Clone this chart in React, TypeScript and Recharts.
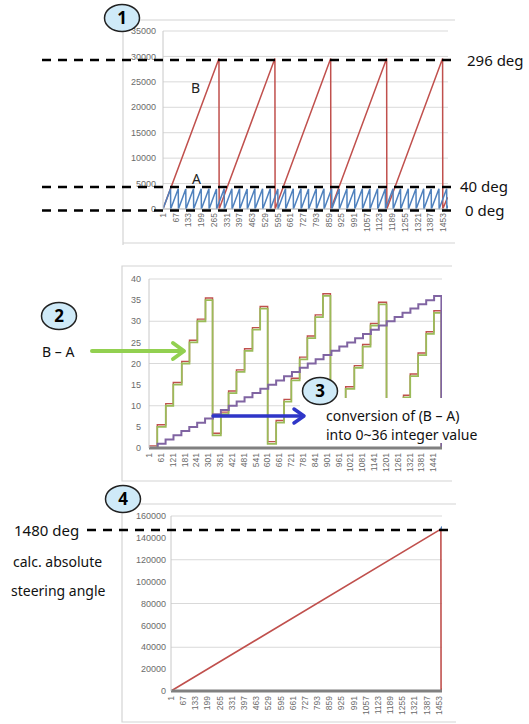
import { LineChart, Line, XAxis, YAxis, CartesianGrid } from "recharts";

// ---- chart 1: sensor angles A and B ----
const xTicks1 = [1, 67, 133, 199, 265, 331, 397, 463, 529, 595, 661, 727, 793, 859, 925, 991, 1057, 1123, 1189, 1255, 1321, 1387, 1453];
const yTicks1 = [0, 5000, 10000, 15000, 20000, 25000, 30000, 35000];

const bIdx = [1, 291, 292, 581, 582, 870, 871, 1160, 1161, 1450, 1451, 1476];
const bVal = [0, 29600, 0, 29600, 0, 29600, 0, 29600, 0, 29600, 0, 2300];

// A wraps back to 0 right after each peak
const aWrapIdx = [40, 80, 119, 159, 199, 239, 278, 318, 358, 398, 437, 477, 517, 557, 596, 636, 676, 716, 755, 795, 835, 875, 914, 954, 994, 1034, 1073, 1113, 1153, 1193, 1232, 1272, 1312, 1352, 1391, 1431, 1471];
const aPeakVal = [4000, 4000, 3950, 4000, 4000, 4000, 3950, 4000, 4000, 4000, 3950, 4000, 4000, 4000, 3950, 4000, 4000, 4000, 3950, 4000, 4000, 4000, 3950, 4000, 4000, 4000, 3950, 4000, 4000, 4000, 3950, 4000, 4000, 4000, 3950, 4000, 4000];

// ---- chart 2: B - A, and its 0~36 integer conversion ----
const xTicks2 = [1, 61, 121, 181, 241, 301, 361, 421, 481, 541, 601, 661, 721, 781, 841, 901, 961, 1021, 1081, 1141, 1201, 1261, 1321, 1381, 1441];
const yTicks2 = [0, 5, 10, 15, 20, 25, 30, 35, 40];

const gIdx = [1, 43, 86, 124, 167, 206, 246, 287, 323, 365, 404, 444, 485, 525, 564, 602, 645, 685, 722, 764, 803, 843, 882, 920, 960, 997, 1041, 1083, 1123, 1164, 1204, 1244, 1290, 1324, 1364, 1405, 1444, 1482, 1485];
const gVal = [0, 5, 10, 15, 20, 25, 30, 35, 3, 8, 13, 18, 23, 28, 33, 1, 6, 11, 16, 21, 26, 31, 36, 4, 9, 14, 19, 24, 29, 34, 2, 7, 12, 17, 22, 27, 32, 0, 0];
const rVal = [0.5, 5.5, 10.5, 15.5, 20.5, 25.5, 30.5, 35.5, 3.5, 8.5, 13.5, 18.5, 23.5, 28.5, 33.5, 1.5, 6.5, 11.5, 16.5, 21.5, 26.5, 31.5, 36.5, 4.5, 9.5, 14.5, 19.5, 24.5, 29.5, 34.5, 2.5, 7.5, 12.5, 17.5, 22.5, 27.5, 32.5, 0.3, 0.3];

const pIdx = [1, 45, 85, 125, 165, 205, 245, 285, 325, 365, 405, 445, 485, 525, 565, 605, 645, 685, 725, 765, 805, 845, 885, 925, 965, 1005, 1045, 1085, 1125, 1165, 1205, 1245, 1285, 1325, 1365, 1405, 1445, 1482, 1485];
const pVal = [0, 1, 2, 3, 4, 5, 6, 7, 8, 9, 10, 11, 12, 13, 14, 15, 16, 17, 18, 19, 20, 21, 22, 23, 24, 25, 26, 27, 28, 29, 30, 31, 32, 33, 34, 35, 36, 0, 0];

// ---- chart 3: absolute steering angle ----
const xTicks3 = [1, 67, 133, 199, 265, 331, 397, 463, 529, 595, 661, 727, 793, 859, 925, 991, 1057, 1123, 1189, 1255, 1321, 1387, 1453];
const yTicks3 = [0, 20000, 40000, 60000, 80000, 100000, 120000, 140000, 160000];
const sIdx = [1, 1464, 1465, 1470];
const sVal = [0, 148000, 0, 2500];
const tipIdx = [1464, 1469];
const tipVal = [148000, 150500];

const pts = (xs: number[], ys: number[]) => xs.map((x, i) => ({ x, y: ys[i] }));

const aPts: { x: number; y: number }[] = [{ x: 1, y: 0 }];
aWrapIdx.forEach((w, i) => {
  aPts.push({ x: w, y: aPeakVal[i] });
  aPts.push({ x: w + 1, y: 0 });
});
aPts.push({ x: 1478, y: 700 });

const AXIS_FONT = "'Liberation Sans', Arial, sans-serif";
const NOTE_FONT = "'Noto Sans', 'Open Sans', sans-serif";
const GRID = "#d9d9d9";
const LABEL = "#6b6b6b";

const RotTick = (props: any) => {
  const { x, y, payload } = props;
  return (
    <text
      x={x}
      y={y}
      transform={`rotate(-90, ${x}, ${y})`}
      textAnchor="end"
      dy="0.35em"
      fontSize={8.5}
      fill={LABEL}
      fontFamily={AXIS_FONT}
    >
      {payload.value}
    </text>
  );
};

const yTickStyle = { fontSize: 9, fill: LABEL, fontFamily: AXIS_FONT };

function Bubble({ cx, cy, n }: { cx: number; cy: number; n: string }) {
  return (
    <g>
      <ellipse cx={cx} cy={cy} rx={17.5} ry={13.5} fill="#cfeaf8" stroke="#222" strokeWidth={1.5} />
      <text x={cx} y={cy + 6} textAnchor="middle" fontSize={17} fontWeight="bold" fontFamily={NOTE_FONT} fill="#000">
        {n}
      </text>
    </g>
  );
}

export default function App() {
  return (
    <div style={{ position: "absolute", left: 0, top: 0, width: 529, height: 724, background: "#fff", overflow: "hidden" }}>
      {/* chart frames */}
      <svg width={529} height={724} style={{ position: "absolute", left: 0, top: 0 }}>
        <g stroke="#d4d4d4" strokeWidth={1.2} fill="none">
          <path d="M455 20 H123 V245" />
          <path d="M123 243 H455" />
          <path d="M452 266 H122 V481 H452" />
          <path d="M456 504 H122 V722 H456" />
        </g>
      </svg>

      <div style={{ position: "absolute", left: 0, top: 0 }}>
        <LineChart width={529} height={250} margin={{ top: 31, right: 81, bottom: 0, left: 0 }}>
          <CartesianGrid vertical={false} stroke={GRID} />
          <XAxis
            dataKey="x"
            type="number"
            domain={[1, 1478]}
            ticks={xTicks1}
            interval={0}
            height={41}
            tickSize={0}
            tickMargin={4}
            tickLine={false}
            axisLine={{ stroke: "#bfbfbf" }}
            tick={<RotTick />}
            allowDataOverflow
          />
          <YAxis
            type="number"
            domain={[0, 35000]}
            ticks={yTicks1}
            width={163}
            tickLine={false}
            tickSize={4}
            tickMargin={3}
            axisLine={{ stroke: "#c8c8c8" }}
            tick={yTickStyle}
          />
          <Line data={pts(bIdx, bVal)} dataKey="y" type="linear" stroke="#c0504d" strokeWidth={1.5} dot={false} isAnimationActive={false} />
          <Line data={aPts} dataKey="y" type="linear" stroke="#4f81bd" strokeWidth={1.5} dot={false} isAnimationActive={false} />
        </LineChart>
      </div>

      <div style={{ position: "absolute", left: 0, top: 260 }}>
        <LineChart width={529} height={230} margin={{ top: 19, right: 87, bottom: 0, left: 0 }}>
          <CartesianGrid vertical={false} stroke={GRID} />
          <XAxis
            dataKey="x"
            type="number"
            domain={[1, 1485]}
            ticks={xTicks2}
            interval={0}
            height={42}
            tickSize={0}
            tickMargin={5}
            tickLine={false}
            axisLine={{ stroke: "#808080", strokeWidth: 3 }}
            tick={<RotTick />}
            allowDataOverflow
          />
          <YAxis
            type="number"
            domain={[0, 40]}
            ticks={yTicks2}
            width={149}
            tickLine={false}
            tickSize={4}
            tickMargin={4}
            axisLine={{ stroke: "#c8c8c8" }}
            tick={yTickStyle}
          />
          <Line data={pts(gIdx, rVal)} dataKey="y" type="stepAfter" stroke="#c0504d" strokeWidth={1.4} dot={false} isAnimationActive={false} />
          <Line data={pts(gIdx, gVal)} dataKey="y" type="stepAfter" stroke="#9bbb59" strokeWidth={1.8} dot={false} isAnimationActive={false} />
          <Line data={pts(pIdx, pVal)} dataKey="y" type="stepAfter" stroke="#8064a2" strokeWidth={2} dot={false} isAnimationActive={false} />
        </LineChart>
      </div>

      <div style={{ position: "absolute", left: 0, top: 500 }}>
        <LineChart width={529} height={230} margin={{ top: 16, right: 87, bottom: 0, left: 0 }}>
          <CartesianGrid vertical={false} stroke={GRID} />
          <XAxis
            dataKey="x"
            type="number"
            domain={[1, 1470]}
            ticks={xTicks3}
            interval={0}
            height={39}
            tickSize={0}
            tickMargin={5}
            tickLine={false}
            axisLine={{ stroke: "#808080", strokeWidth: 3 }}
            tick={<RotTick />}
            allowDataOverflow
          />
          <YAxis
            type="number"
            domain={[0, 160000]}
            ticks={yTicks3}
            width={171}
            tickLine={false}
            tickSize={2}
            tickMargin={3}
            axisLine={{ stroke: "#c8c8c8" }}
            tick={yTickStyle}
          />
          <Line data={pts(sIdx, sVal)} dataKey="y" type="linear" stroke="#c0504d" strokeWidth={1.6} dot={false} isAnimationActive={false} />
          <Line data={pts(tipIdx, tipVal)} dataKey="y" type="linear" stroke="#4f81bd" strokeWidth={1.5} dot={false} isAnimationActive={false} />
        </LineChart>
      </div>

      {/* annotations */}
      <svg width={529} height={724} style={{ position: "absolute", left: 0, top: 0, pointerEvents: "none" }}>
        <g stroke="#000" strokeWidth={2.5} strokeDasharray="9 7">
          <line x1={42} y1={60} x2={457} y2={60} />
          <line x1={42} y1={187} x2={453} y2={187} />
          <line x1={42} y1={210.5} x2={452} y2={210.5} />
          <line x1={87} y1={530} x2={452} y2={530} />
        </g>
        <g fontFamily={NOTE_FONT} fill="#111" fontSize={15}>
          <text x={467} y={66}>296 deg</text>
          <text x={460} y={192}>40 deg</text>
          <text x={465} y={216}>0 deg</text>
          <text x={191} y={93} fontSize={14} fill="#222">B</text>
          <text x={192} y={184} fontSize={14} fill="#222">A</text>
          <text x={42} y={357} fontSize={14}>B – A</text>
          <text x={14} y={536}>1480 deg</text>
          <text x={13} y={567} fontSize={14}>calc. absolute</text>
          <text x={11} y={596} fontSize={14}>steering angle</text>
        </g>

        {/* green arrow */}
        <g stroke="#92d050" strokeWidth={4} fill="none" strokeLinecap="round" strokeLinejoin="round">
          <line x1={92} y1={351} x2={183} y2={351} />
          <polyline points="173,343 184,351 173,359" />
        </g>

        {/* cover box for step 3 note */}
        <rect x={300} y={398} width={146} height={45} fill="#fff" />

        {/* blue arrow */}
        <g stroke="#2f36c8" strokeWidth={3.5} fill="none" strokeLinecap="round" strokeLinejoin="round">
          <line x1={213} y1={416} x2={303} y2={416} />
          <polyline points="294,409 304,416 294,423" />
        </g>

        <g fontFamily={NOTE_FONT} fill="#111" fontSize={14}>
          <text x={326} y={421}>conversion of (B – A)</text>
          <text x={326} y={440}>into 0~36 integer value</text>
        </g>

        <Bubble cx={122} cy={18} n="1" />
        <Bubble cx={59} cy={316} n="2" />
        <Bubble cx={320} cy={391} n="3" />
        <Bubble cx={123} cy={499} n="4" />
      </svg>
    </div>
  );
}
